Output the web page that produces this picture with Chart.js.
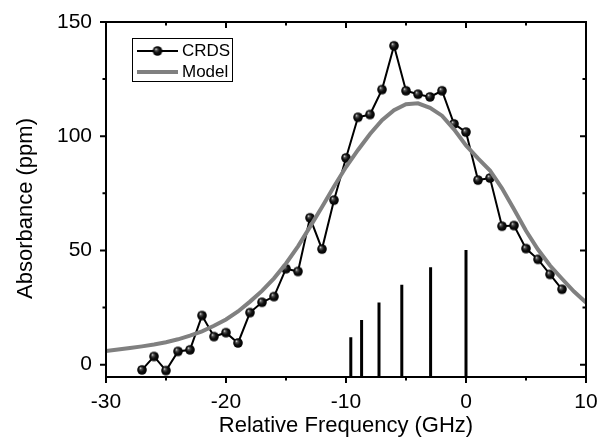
<!DOCTYPE html>
<html>
<head>
<meta charset="utf-8">
<script src="https://cdn.jsdelivr.net/npm/chart.js@4/dist/chart.umd.min.js"></script>
<style>
  html, body { margin: 0; padding: 0; background: #fff; }
  #wrap { width: 598px; height: 441px; }
</style>
</head>
<body>
<div id="wrap"><canvas id="spectrum" width="598" height="441"></canvas></div>
<script>
// measured CRDS spectrum
const crdsFreq = [-27, -26, -25, -24, -23, -22, -21, -20, -19, -18, -17, -16, -15, -14, -13, -12, -11, -10,
                  -9, -8, -7, -6, -5, -4, -3, -2, -1, 0, 1, 2, 3, 4, 5, 6, 7, 8];
const crdsAbs = [-2.3, 3.6, -2.6, 5.8, 6.5, 21.5, 12.3, 14.0, 9.5, 22.8, 27.3, 29.8, 42.0, 40.8, 64.3, 50.6, 72.0, 90.5,
                 108.3, 109.5, 120.4, 139.6, 119.9, 118.4, 117.2, 119.9, 105.4, 101.8, 80.8, 81.7, 60.6, 60.9, 50.8, 46.1, 39.5, 33.0];

// model curve
const modelFreq = [-30, -29, -28, -27, -26, -25, -24, -23, -22, -21, -20, -19, -18, -17, -16, -15, -14, -13, -12, -11,
                   -10, -9, -8, -7, -6, -5, -4, -3, -2, -1, 0, 1, 2, 3, 4, 5, 6, 7, 8, 9, 10];
const modelAbs = [6.0, 6.6, 7.3, 8.0, 8.8, 9.8, 11.1, 12.7, 14.6, 17.0, 19.8, 23.3, 27.6, 32.3, 37.8, 44.3, 51.8, 60.3, 69.0, 78.0,
                  86.5, 94.0, 101.0, 107.0, 111.4, 114.0, 114.4, 112.4, 109.0, 103.0, 96.0, 90.3, 85.0, 77.2, 68.0, 58.6, 50.4, 43.4, 37.6, 32.0, 27.2];

// line positions (sticks)
const stickFreq = [-9.6, -8.7, -7.25, -5.35, -2.95, 0];
const stickHeight = [12.0, 19.6, 27.2, 35.0, 42.6, 50.2];

// axes
const xMin = -30, xMax = 10;
const yMin = -5.4, yMax = 150;
const xMajor = [-30, -20, -10, 0, 10];
const xMinor = [-25, -15, -5, 5];
const yMajor = [0, 50, 100, 150];
const yMinor = [25, 75, 125];

const FONT = '"Liberation Sans", Arial, Helvetica, sans-serif';

// sticks go from the bottom axis up, separated by gaps
const stickPoints = [];
stickFreq.forEach((f, i) => {
    stickPoints.push({ x: f, y: yMin });
    stickPoints.push({ x: f, y: stickHeight[i] });
    stickPoints.push({ x: f, y: null });
});

// little shaded ball used as the CRDS marker
function makeBall(r) {
    const c = document.createElement('canvas');
    const s = Math.ceil(r * 2 + 2);
    c.width = s; c.height = s;
    const g = c.getContext('2d');
    const cx = s / 2, cy = s / 2;
    const grad = g.createRadialGradient(cx - r * 0.35, cy - r * 0.4, 0.2, cx, cy, r);
    grad.addColorStop(0, '#d8d8d8');
    grad.addColorStop(0.22, '#555');
    grad.addColorStop(0.55, '#111');
    grad.addColorStop(1, '#000');
    g.beginPath();
    g.arc(cx, cy, r, 0, Math.PI * 2);
    g.fillStyle = grad;
    g.fill();
    return c;
}
const ball = makeBall(4.8);

// frame with ticks: out on left/bottom, in on top/right
const frameTicks = {
    id: 'frameTicks',
    afterDatasetsDraw(chart) {
        const { ctx, chartArea: a, scales: { x, y } } = chart;
        ctx.save();
        ctx.strokeStyle = '#000';
        ctx.lineWidth = 2;
        ctx.strokeRect(a.left, a.top, a.right - a.left, a.bottom - a.top);
        const tick = (vals, len) => {
            vals.forEach(v => {
                const px = x.getPixelForValue(v);
                ctx.beginPath();
                ctx.moveTo(px, a.bottom); ctx.lineTo(px, a.bottom + len);
                ctx.moveTo(px, a.top); ctx.lineTo(px, a.top + len);
                ctx.stroke();
            });
        };
        const tickY = (vals, len) => {
            vals.forEach(v => {
                const py = y.getPixelForValue(v);
                ctx.beginPath();
                ctx.moveTo(a.left, py); ctx.lineTo(a.left - len, py);
                ctx.moveTo(a.right, py); ctx.lineTo(a.right - len, py);
                ctx.stroke();
            });
        };
        tick(xMajor, 6); tick(xMinor, 3.5);
        tickY(yMajor, 6); tickY(yMinor, 3.5);

        // axis titles
        ctx.fillStyle = '#000';
        ctx.font = '22px ' + FONT;
        ctx.textAlign = 'center';
        ctx.textBaseline = 'middle';
        ctx.fillText('Relative Frequency (GHz)', (a.left + a.right) / 2, 426);
        ctx.translate(26, (a.top + a.bottom) / 2 + 9);
        ctx.rotate(-Math.PI / 2);
        ctx.fillText('Absorbance (ppm)', 0, 0);
        ctx.restore();

        // legend box
        ctx.save();
        ctx.lineWidth = 1;
        ctx.strokeStyle = '#000';
        ctx.strokeRect(132.5, 38.5, 100, 43);
        ctx.lineWidth = 2;
        ctx.beginPath(); ctx.moveTo(137, 51); ctx.lineTo(178, 51); ctx.stroke();
        ctx.drawImage(ball, 157.5 - ball.width / 2, 51 - ball.height / 2);
        ctx.strokeStyle = '#808080';
        ctx.lineWidth = 4;
        ctx.beginPath(); ctx.moveTo(137, 72); ctx.lineTo(178, 72); ctx.stroke();
        ctx.fillStyle = '#000';
        ctx.font = '17px ' + FONT;
        ctx.textBaseline = 'middle';
        ctx.fillText('CRDS', 182, 51);
        ctx.fillText('Model', 182, 72);
        ctx.restore();
    }
};

const ctx = document.getElementById('spectrum').getContext('2d');
const spectrumChart = new Chart(ctx, {
    type: 'line',
    data: {
        datasets: [
            {
                label: 'Model',
                data: modelFreq.map((f, i) => ({ x: f, y: modelAbs[i] })),
                borderColor: '#808080',
                borderWidth: 4,
                pointRadius: 0,
                tension: 0,
                order: 0
            },
            {
                label: 'CRDS',
                data: crdsFreq.map((f, i) => ({ x: f, y: crdsAbs[i] })),
                borderColor: '#000',
                borderWidth: 2,
                pointStyle: ball,
                pointRadius: 4.8,
                tension: 0,
                order: 1
            },
            {
                label: 'Lines',
                data: stickPoints,
                borderColor: '#000',
                borderWidth: 3,
                pointRadius: 0,
                spanGaps: false,
                tension: 0,
                order: 2
            }
        ]
    },
    options: {
        responsive: false,
        animation: false,
        devicePixelRatio: 1,
        layout: { padding: { top: 22, right: 12, left: 0, bottom: 0 } },
        plugins: {
            legend: { display: false },
            tooltip: { enabled: false }
        },
        scales: {
            x: {
                type: 'linear',
                min: xMin,
                max: xMax,
                grid: { display: false, drawTicks: false },
                border: { display: false },
                afterBuildTicks: s => { s.ticks = xMajor.map(v => ({ value: v })); },
                afterFit: s => { s.height = 64; s.paddingLeft = 0; s.paddingRight = 0; },
                ticks: {
                    color: '#000',
                    padding: 13,
                    maxRotation: 0,
                    font: { family: FONT, size: 21 }
                }
            },
            y: {
                type: 'linear',
                min: yMin,
                max: yMax,
                grid: { display: false, drawTicks: false },
                border: { display: false },
                afterBuildTicks: s => { s.ticks = yMajor.map(v => ({ value: v })); },
                afterFit: s => { s.width = 106; s.paddingTop = 0; s.paddingBottom = 0; },
                ticks: {
                    color: '#000',
                    padding: 14,
                    font: { family: FONT, size: 21 }
                }
            }
        }
    },
    plugins: [frameTicks]
});
</script>
</body>
</html>
